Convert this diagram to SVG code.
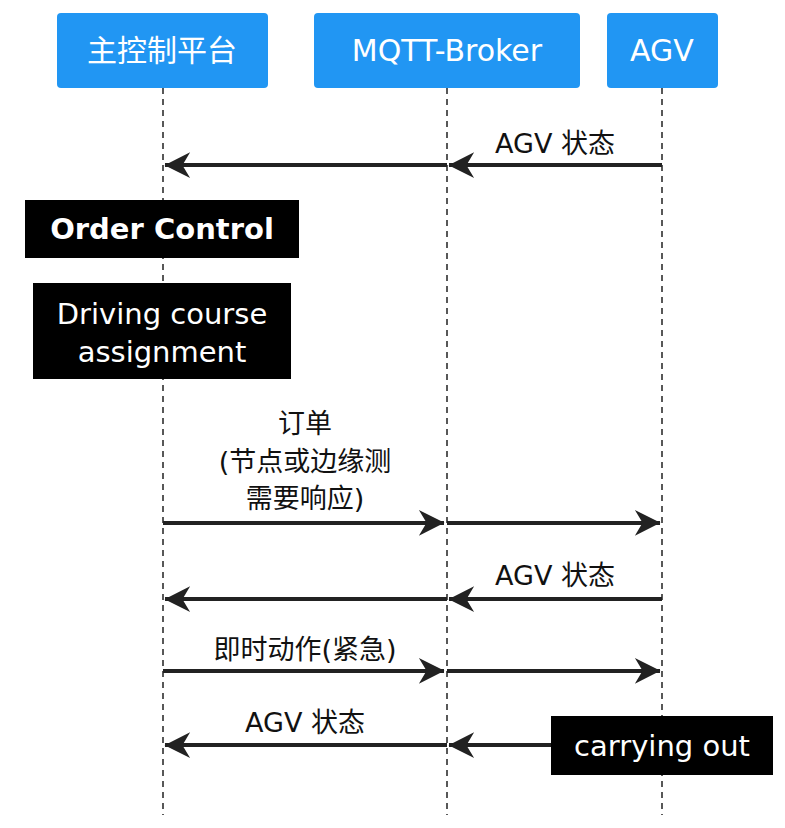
<svg xmlns="http://www.w3.org/2000/svg" width="785" height="828" viewBox="0 0 785 828">
<style>
.p{fill:#2196f3;}
.pt{fill:#fff;font-family:"DejaVu Sans","Noto Sans CJK SC",sans-serif;font-size:30px;text-anchor:middle;}
.life{stroke:#222;stroke-width:1.5;stroke-dasharray:6,5;fill:none;}
.msg{stroke:#222;stroke-width:4;fill:none;}
.lbl{fill:#111;font-family:"DejaVu Sans","Noto Sans CJK SC",sans-serif;font-size:27px;text-anchor:middle;}
.nb{fill:#000;}
.nt{fill:#fff;font-family:"DejaVu Sans",sans-serif;font-size:29px;text-anchor:middle;}
</style>
<defs>
<marker id="ah" viewBox="0 0 10 10" refX="9" refY="5" markerWidth="8" markerHeight="8" markerUnits="userSpaceOnUse" orient="auto" style="overflow:visible">
<path d="M0,0 L10,5 L0,10 L3,5 Z" fill="#222" transform="scale(3.2) translate(-7,-3.5)"/>
</marker>
</defs>
<g id="lifelines">
<line class="life" x1="163" y1="88" x2="163" y2="815"/>
<line class="life" x1="447" y1="88" x2="447" y2="815"/>
<line class="life" x1="662" y1="88" x2="662" y2="815"/>
</g>
<g id="p1"><rect class="p" x="57" y="13" width="211" height="75" rx="4"/><text class="pt" x="162" y="61">主控制平台</text></g>
<g id="p2"><rect class="p" x="314" y="13" width="266" height="75" rx="4"/><text class="pt" x="447" y="61">MQTT-Broker</text></g>
<g id="p3"><rect class="p" x="607" y="13" width="111" height="75" rx="4"/><text class="pt" x="662" y="61">AGV</text></g>
<g id="connectors">
<path class="msg" d="M662,165 H449" marker-end="url(#ah)"/>
<path class="msg" d="M447,165 H165" marker-end="url(#ah)"/>
<path class="msg" d="M163,523 H444" marker-end="url(#ah)"/>
<path class="msg" d="M447,523 H660" marker-end="url(#ah)"/>
<path class="msg" d="M662,599 H449" marker-end="url(#ah)"/>
<path class="msg" d="M447,599 H165" marker-end="url(#ah)"/>
<path class="msg" d="M163,671 H444" marker-end="url(#ah)"/>
<path class="msg" d="M447,671 H660" marker-end="url(#ah)"/>
<path class="msg" d="M560,745 H449" marker-end="url(#ah)"/>
<path class="msg" d="M447,745 H165" marker-end="url(#ah)"/>
</g>
<g id="labels">
<text class="lbl" x="555" y="153">AGV 状态</text>
<text class="lbl" x="305" y="433">订单</text>
<text class="lbl" x="305" y="471">(节点或边缘测</text>
<text class="lbl" x="305" y="508">需要响应)</text>
<text class="lbl" x="555" y="585">AGV 状态</text>
<text class="lbl" x="305" y="659">即时动作(紧急)</text>
<text class="lbl" x="305" y="732">AGV 状态</text>
</g>
<g id="n1"><rect class="nb" x="25" y="200" width="274" height="58"/><text class="nt" x="162" y="239" font-weight="bold">Order Control</text></g>
<g id="n2"><rect class="nb" x="33" y="283" width="258" height="96"/><text class="nt" x="162" y="324">Driving course</text><text class="nt" x="162" y="362">assignment</text></g>
<g id="n3"><rect class="nb" x="551" y="716" width="222" height="59"/><text class="nt" x="662" y="756">carrying out</text></g>
</svg>
